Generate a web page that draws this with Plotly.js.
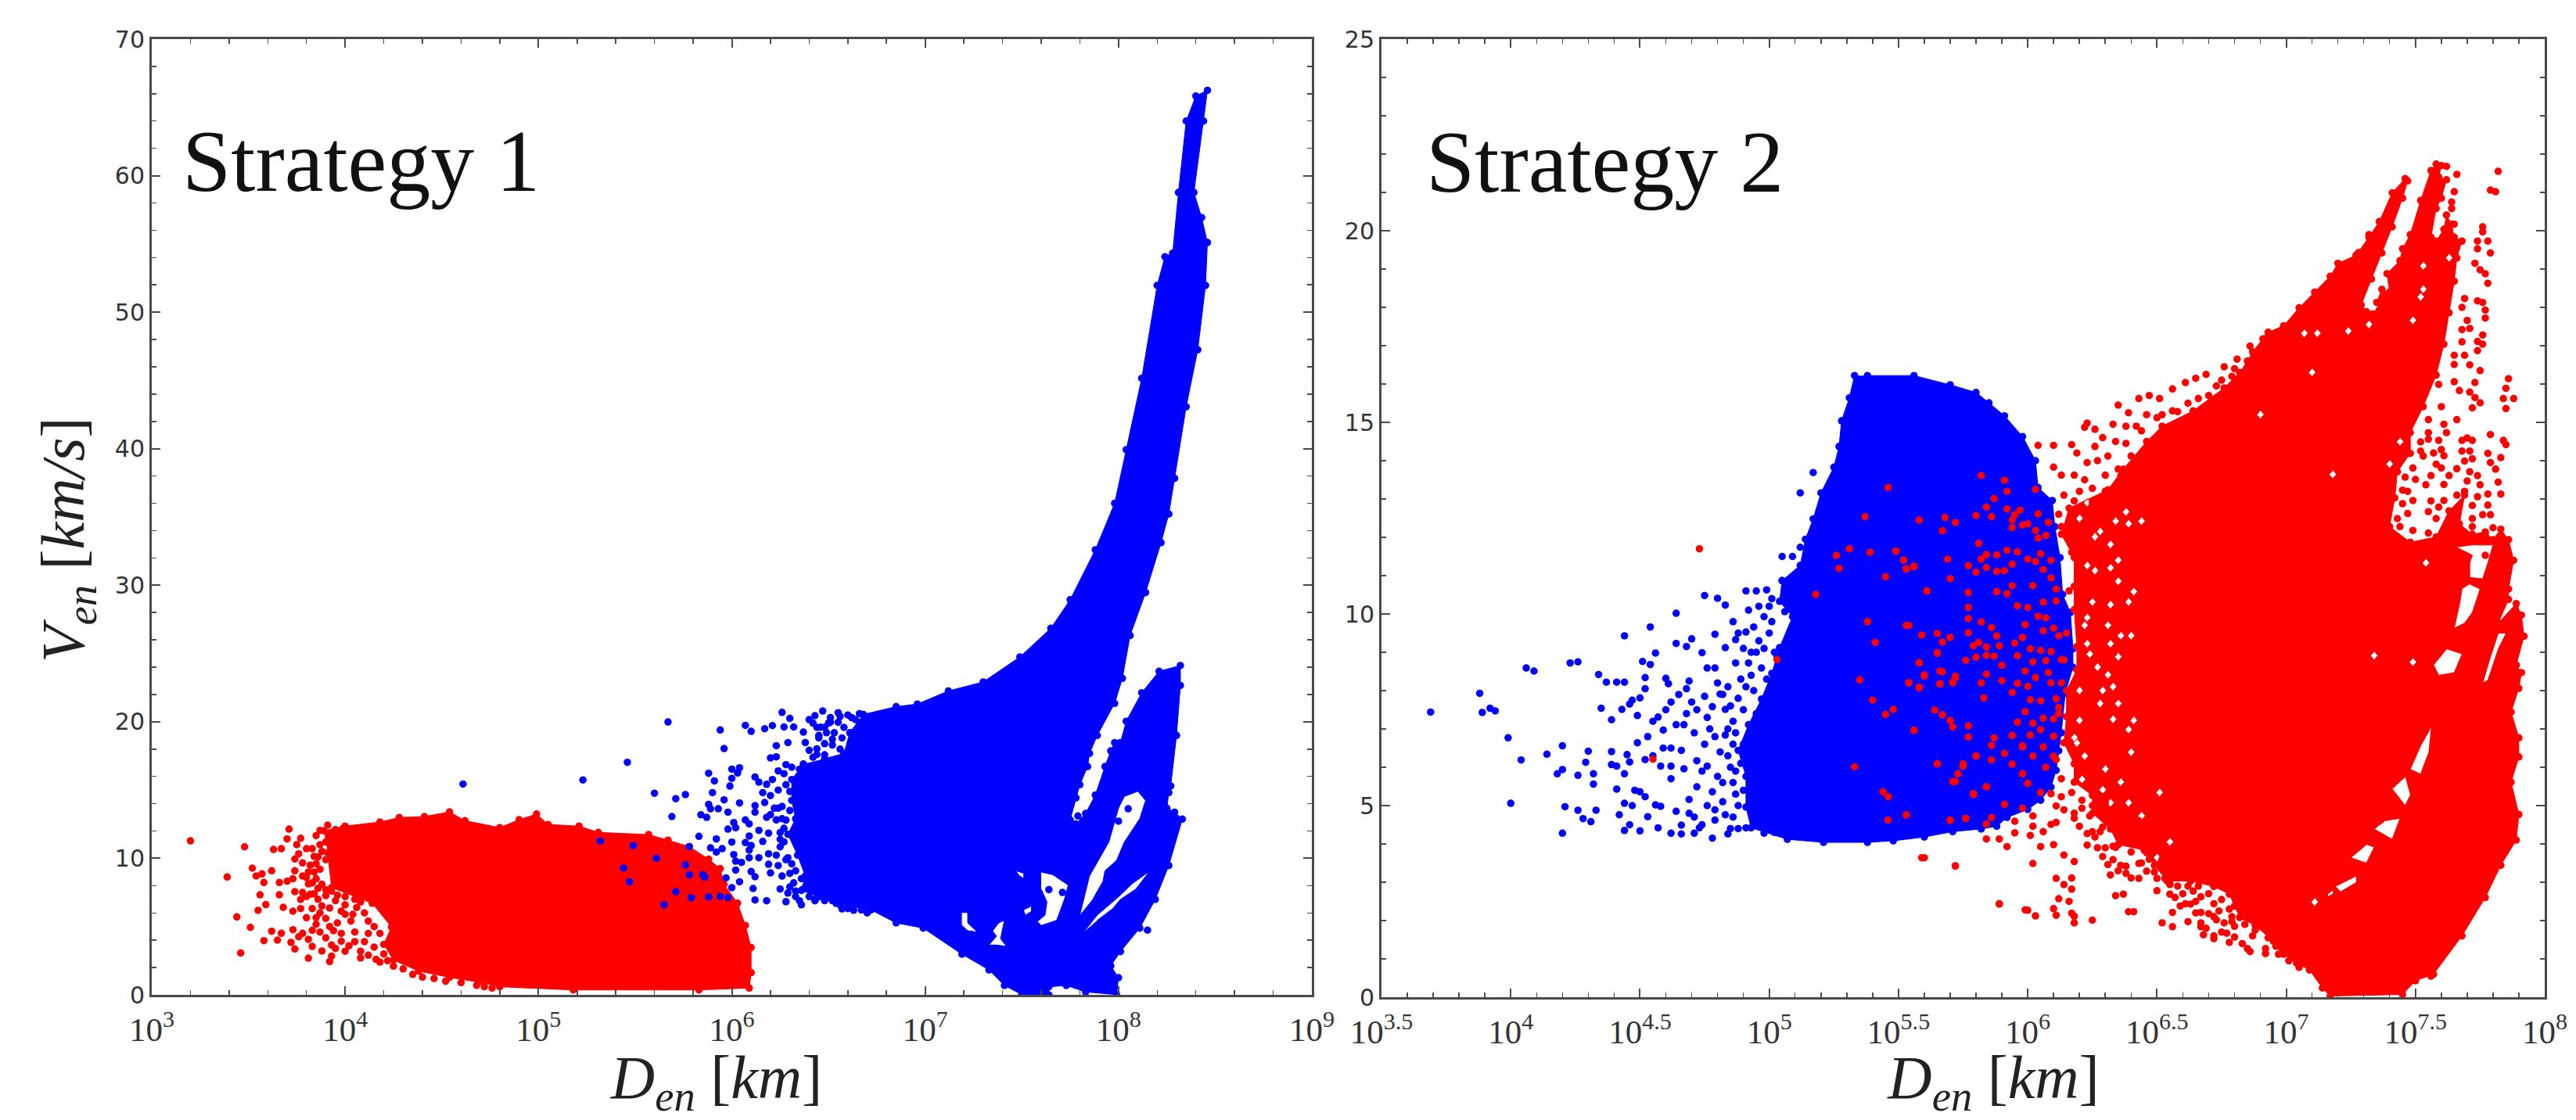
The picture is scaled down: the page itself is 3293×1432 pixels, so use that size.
<!DOCTYPE html>
<html><head><meta charset="utf-8">
<style>html,body{margin:0;padding:0;background:#fff}</style>
<script src="https://cdn.plot.ly/plotly-3.0.1.min.js"></script>
</head><body><div id="chart" style="width:3293px;height:1432px"></div>
<script>
// All points are [log10(D_en / km), V_en (km/s)].
const s1RedBody=[[3.89,12.02],[4.00,12.36],[4.18,12.66],[4.28,12.99],[4.41,13.06],[4.54,13.40],[4.62,12.76],[4.80,12.25],[4.90,12.83],[4.99,13.24],[5.05,12.48],[5.21,12.36],[5.31,11.90],[5.57,11.74],[5.67,11.33],[5.78,10.86],[5.88,9.94],[5.94,9.25],[5.96,8.09],[6.03,6.71],[6.07,5.09],[6.10,3.47],[6.10,1.62],[6.09,0.5],[5.83,0.36],[5.18,0.36],[4.80,0.59],[4.69,0.93],[4.54,1.28],[4.38,1.74],[4.25,2.55],[4.20,3.70],[4.24,4.97],[4.14,6.71],[3.93,7.86],[3.91,10.4]];
const s1RedDots=[[3.20,11.28],[3.48,10.84],[3.39,8.63],[3.44,5.71],[3.46,3.07],[3.51,4.94],[3.52,9.28],[3.54,8.71],[3.57,8.86],[3.62,9.09],[3.63,10.65],[3.67,10.71],[3.70,11.42],[3.71,12.14],[3.58,8.23],[3.56,7.33],[3.59,6.61],[3.55,6.19],[3.66,7.33],[3.66,8.23],[3.68,6.41],[3.62,4.66],[3.58,3.97],[3.65,4.01],[3.67,4.51],[3.73,4.77],[3.72,3.84],[3.74,3.36],[3.76,4.26],[3.78,4.51],[3.81,4.07],[3.83,3.55],[3.81,2.69],[3.88,3.21],[3.92,2.44],[3.93,2.84],[3.93,3.65],[3.90,4.18],[3.87,4.60],[3.83,4.73],[3.73,6.13],[3.77,6.32],[3.77,6.99],[3.74,7.56],[3.80,5.65],[3.83,6.32],[3.88,6.51],[3.92,6.36],[3.85,5.65],[3.85,5.17],[3.74,9.09],[3.76,10.33],[3.74,9.95],[3.78,9.66],[3.75,11.0],[3.77,11.47],[3.80,10.71],[3.83,10.71],[3.84,10.14],[3.85,11.66],[3.91,12.43],[3.87,12.05],[3.98,11.66],[3.99,12.2],[3.70,8.32],[3.73,8.5],[3.78,8.7],[3.81,8.13],[3.82,7.37],[3.90,7.27],[3.96,5.27],[3.94,4.7],[3.98,3.93],[3.98,6.13],[4.03,5.4],[4.05,4.6],[4.02,3.6],[4.08,3.2],[4.12,2.9],[4.18,2.4],[4.25,2.1],[4.06,6.4],
[3.95,12.1],[3.98,11.2],[3.95,11.3],[3.92,11.8],[3.90,11.2],[3.87,11.0],[3.88,10.5],[3.86,10.1],[3.85,9.6],[3.90,9.9],[3.82,9.5],[3.84,9.0],[3.87,9.2],[3.81,9.0],[3.80,8.6],[3.85,8.5],[3.83,8.2],[3.88,8.1],[3.86,7.8],[3.84,7.4],[3.90,7.7],[3.93,7.6],[3.96,7.3],[4.0,7.2],[4.05,7.0],[4.08,6.8],[4.0,6.6],[3.95,6.9],[3.86,7.0],[3.78,7.5],[3.80,7.2],[4.0,5.9],[4.04,5.9],[4.1,6.0],[4.12,5.4],[4.15,5.0],[4.18,4.5],[4.12,4.5],[4.10,3.9],[4.15,3.5],[4.05,3.9],[4.0,3.2],[3.95,3.4],[3.98,4.5],[3.92,5.0],[3.90,5.6],[3.87,6.0],[4.2,3.0],[4.16,2.6],[4.22,2.5],[4.08,2.7],[4.3,1.9],[4.35,1.5],[4.4,1.3],[4.46,1.2],[4.52,1.0],[4.6,0.9],[4.68,0.7],[4.72,0.6],[4.76,0.5]];
const s1BlueBody=[[6.37,16.91],[6.31,15.77],[6.31,14.24],[6.33,12.90],[6.29,11.76],[6.34,10.23],[6.38,8.70],[6.36,7.65],[6.45,7.18],[6.56,6.60],[6.72,6.22],[6.85,5.27],[6.99,4.89],[7.19,2.98],[7.33,1.83],[7.41,0.69],[7.50,0.02],[7.64,0],[7.64,0.59],[7.73,0.69],[7.83,0.21],[7.99,0.02],[8.00,1.26],[7.96,2.12],[8.01,3.17],[8.11,4.89],[8.19,6.99],[8.26,9.47],[8.33,12.87],[8.29,13.38],[8.25,13.67],[8.26,14.82],[8.27,15.3],[8.30,19.0],[8.32,22.66],[8.32,24.12],[8.21,23.70],[8.12,22.13],[8.04,20.04],[8.01,18.47],[7.98,18.47],[7.96,17.87],[7.93,16.72],[7.88,14.63],[7.83,13.29],[7.78,12.52],[7.75,12.81],[7.78,14.43],[7.80,15.39],[7.84,16.72],[7.85,17.68],[7.89,19.0],[7.98,21.35],[8.02,23.18],[8.06,26.32],[8.14,29.46],[8.22,33.12],[8.26,35.22],[8.29,37.83],[8.35,43.07],[8.41,47.25],[8.45,51.96],[8.46,55.10],[8.43,56.93],[8.39,58.77],[8.44,64.0],[8.46,66.25],[8.40,65.83],[8.35,64.0],[8.31,58.77],[8.28,54.32],[8.24,54.06],[8.20,51.96],[8.12,45.16],[8.04,39.93],[7.98,36.0],[7.88,32.6],[7.75,28.94],[7.65,26.85],[7.49,24.75],[7.30,22.92],[7.12,22.26],[6.96,21.30],[6.85,21.11],[6.68,20.54],[6.61,19.2],[6.58,17.68],[6.48,17.30]];
const s1BlueGaps=[
[[7.80,5.84],[7.85,8.71],[7.95,11.19],[8.00,13.67],[8.03,14.53],[8.10,14.91],[8.14,14.24],[8.11,12.91],[8.03,11.19],[7.99,9.85],[7.93,9.09],[7.92,8.32],[7.87,7.08]],
[[7.82,4.60],[7.89,5.84],[8.00,7.18],[8.07,8.13],[8.16,9.05],[8.09,7.75],[8.01,6.99],[7.97,6.32],[7.89,5.46]],
[[7.60,9.0],[7.66,8.8],[7.74,8.04],[7.72,6.99],[7.70,6.22],[7.68,5.46],[7.60,5.08],[7.58,5.37],[7.62,5.84],[7.63,6.8],[7.60,7.75]],
[[7.19,6.03],[7.22,6.03],[7.22,5.27],[7.27,4.60],[7.22,4.70],[7.19,5.08]],
[[7.35,4.70],[7.38,5.27],[7.41,5.46],[7.39,4.12],[7.42,3.55],[7.37,3.65],[7.33,3.65],[7.37,4.31]],
[[7.47,9.09],[7.51,8.90],[7.51,8.52],[7.49,8.71]],
[[7.51,6.23],[7.55,6.51],[7.55,6.13],[7.52,5.84]]
];
const s1BlueDots=[[4.61,15.44],[5.23,15.74],[5.46,17.03],[5.67,19.99],[5.60,14.77],[5.71,14.37],[5.76,14.67],[5.69,13.06],[5.32,11.26],[5.49,10.93],[5.61,10.01],[5.44,9.29],[5.47,8.28],[5.76,9.52],[5.78,8.79],[5.85,8.79],[5.86,8.62],[5.71,7.56],[5.79,7.12],[5.88,7.17],[5.94,7.21],[5.98,7.12],[5.78,10.86],[5.65,6.59],
[5.94,19.40],[5.96,18.04],[6.07,19.74],[6.10,19.30],[6.17,19.49],[6.21,19.72],[6.26,20.69],[6.30,20.25],[6.27,19.62],[6.32,19.62],[6.37,19.24],[6.29,18.48],[6.23,18.25],[6.38,18.48],[6.40,17.91],[6.44,18.02],[6.20,17.35],[6.23,17.43],[6.40,20.16],[6.43,20.45],[6.47,20.79],[6.55,20.67],[6.51,20.31],[6.44,19.59],[6.45,18.82],[6.52,18.73],[6.28,16.86],[6.31,16.67],[6.35,16.53],[5.88,16.23],[5.91,15.67],[5.99,15.29],[6.00,16.53],[6.04,16.63],[6.00,15.86],[6.03,16.25],[6.12,15.96],[6.14,15.58],[6.21,15.77],[6.18,15.42],[6.24,15.00],[6.28,15.39],[6.16,14.81],[5.90,14.81],[5.96,14.28],[6.04,14.05],[5.88,13.95],[5.89,13.63],[5.93,13.63],[5.98,13.38],[5.84,13.19],[5.87,13.00],[6.17,14.09],[6.12,13.86],[6.12,13.38],[6.24,13.67],[6.22,13.67],[6.18,13.00],[6.07,12.81],[6.09,12.52],[6.01,12.62],[6.02,12.24],[5.98,12.14],[6.23,12.81],[6.26,12.90],[6.19,11.85],[6.14,12.05],[6.25,11.89],[5.83,11.61],[5.92,11.42],[6.00,11.19],[6.09,11.63],[6.07,11.15],[6.16,11.24],[5.89,10.77],[5.92,10.46],[5.95,10.71],[6.10,10.94],[6.09,10.61],[6.25,10.84],[6.01,10.27],[6.02,9.79],[6.05,9.70],[6.09,10.04],[6.14,10.04],[6.19,10.33],[6.23,10.23],[6.19,9.56],[6.24,9.47],[6.02,9.14],[6.10,9.03],[6.12,8.65],[6.20,8.93],[6.26,8.70],[5.97,8.57],[6.04,8.28],[6.00,7.85],[6.11,7.79],[6.12,6.95],[6.18,6.89],[6.25,7.75],[6.29,7.46],[6.28,6.83],[6.35,6.89],[6.36,6.60],[6.43,6.89],[6.54,6.70],[6.60,6.32],[6.67,6.22],[6.37,7.75],[6.33,9.09],[6.36,8.51],[6.29,10.04],
[6.51,19.97],[6.55,19.97],[6.58,19.59],[6.64,20.16],[6.48,19.59],[6.53,19.2],[6.48,17.58],[6.57,18.82],[6.62,19.2],
[8.05,13.63],[8.00,12.72],[7.79,13.1],[8.15,4.74],[7.64,7.71],[7.71,7.50],
[6.56,20.4],[6.60,20.5],[6.62,20.3],[6.66,20.6],[6.50,19.9],[6.46,19.6],[6.42,19.9],[6.49,19.2],[6.45,19.0],[6.52,18.3],[6.56,18.0],[6.48,18.4],[6.44,17.6],[6.42,17.4],[6.30,14.9],[6.30,13.5],[6.28,12.8],[6.27,12.2],[6.25,11.4],[6.27,11.2],[6.28,9.9],[6.31,9.6],[6.30,8.9],[6.32,8.2],[6.30,7.9],[6.33,7.6],[6.33,7.2],[6.40,7.2],[6.43,7.0],[6.48,6.9],[6.52,6.9],[6.57,6.3],[6.63,6.2],[6.70,6.0],[6.26,13.8],[6.20,14.6],[6.20,13.2],[6.27,16.2],[6.24,16.4]];

const s2BlueBody=[[5.33,16.22],[5.31,15.64],[5.28,15.04],[5.27,14.37],[5.25,13.83],[5.20,13.16],[5.17,12.48],[5.14,11.95],[5.12,11.27],[5.05,10.87],[5.04,10.33],[5.09,9.93],[5.04,9.12],[5.01,8.45],[4.97,7.78],[4.92,7.11],[4.88,6.44],[4.91,5.76],[4.91,4.96],[4.93,4.42],[5.07,4.12],[5.21,4.04],[5.38,4.04],[5.48,4.08],[5.60,4.18],[5.71,4.32],[5.82,4.39],[5.88,4.46],[5.92,4.69],[6.00,4.90],[6.05,5.14],[6.09,5.48],[6.11,5.92],[6.12,6.43],[6.13,6.9],[6.145,7.93],[6.175,8.61],[6.175,9.09],[6.165,10.04],[6.135,10.51],[6.125,11.47],[6.105,12.28],[6.095,12.96],[6.04,13.30],[6.03,14.0],[5.98,14.63],[5.91,15.17],[5.85,15.51],[5.80,15.78],[5.70,15.98],[5.56,16.22],[5.38,16.22]];
const s2BlueDots=[[3.69,7.44],[3.88,7.93],[3.89,7.43],[3.92,7.54],[3.94,7.47],[3.99,6.77],[4.00,5.06],[4.04,6.19],[4.06,8.59],[4.09,8.51],[4.14,6.34],[4.20,6.56],[4.18,5.83],[4.20,5.94],[4.21,4.97],[4.20,4.28],[4.23,8.72],[4.26,8.75],[4.26,5.79],[4.26,4.88],[4.28,4.66],[4.31,4.58],[4.33,4.88],[4.29,6.13],[4.30,6.42],[4.32,5.83],[4.32,5.56],[4.34,8.42],[4.35,7.54],[4.39,7.24],[4.37,8.22],[4.41,8.22],[4.44,8.22],[4.44,9.43],[4.39,6.41],[4.39,6.07],[4.41,6.03],[4.44,5.83],[4.41,5.43],[4.45,6.33],[4.46,6.14],[4.44,5.06],[4.42,4.76],[4.44,4.35],[4.50,4.34],[4.49,6.64],[4.49,7.35],[4.43,7.51],[4.46,7.65],[4.47,7.75],[4.50,7.81],[4.52,8.05],[4.52,8.34],[4.51,8.76],[4.54,8.68],[4.56,8.98],[4.54,9.66],[4.64,10.02],[4.64,9.23],[4.68,9.15],[4.70,9.35],[4.75,10.48],[4.80,10.41],[4.83,10.23],[4.79,9.47],[4.74,8.99],[4.76,8.59],[4.57,4.42],[4.62,4.28],[4.66,4.26],[4.71,4.28],[4.78,4.15],[4.84,4.26],[4.53,4.71],[4.52,5.23],[4.50,5.36],[4.56,5.02],[4.58,4.98],[4.64,4.85],[4.69,4.80],[4.66,4.49],[4.73,4.42],[4.79,4.89],[4.83,4.76],[4.57,7.31],[4.59,6.97],[4.64,7.11],[4.67,7.11],[4.68,8.05],[4.69,8.25],[4.60,8.32],[4.61,8.18],[4.59,6.50],[4.62,6.50],[4.66,6.44],[4.62,6.03],[4.55,6.30],[4.58,6.03],[4.62,5.70],[4.67,5.96],[4.72,6.17],[4.72,5.49],[4.69,5.16],[4.75,7.85],[4.78,7.58],[4.81,7.91],[4.83,7.51],[4.79,8.59],[4.83,9.12],[4.87,9.33],[4.91,9.53],[4.94,9.66],[4.86,9.80],[4.91,10.60],[4.95,10.60],[4.99,10.63],[4.98,9.93],[5.01,10.40],[5.05,10.87],[5.06,10.06],[4.87,8.72],[4.92,8.72],[4.97,8.59],[4.83,6.84],[4.84,6.30],[4.80,5.76],[4.76,6.03],[4.78,5.36],[4.87,5.90],[4.79,4.62],[4.91,4.42],[4.98,4.28],[5.12,13.16],[5.17,13.69],[5.05,11.50],[5.09,11.50],[5.12,11.74],[5.14,11.41],
[4.80,8.2],[4.82,7.9],[4.84,8.1],[4.85,7.6],[4.86,7.2],[4.84,7.0],[4.87,6.9],[4.86,6.6],[4.88,7.8],[4.90,7.5],[4.89,8.3],[4.91,8.1],[4.93,8.4],[4.94,8.0],[4.95,9.0],[4.96,9.3],[4.98,9.1],[5.0,9.5],[5.01,9.8],[4.93,9.0],[4.90,9.1],[4.88,9.5],[4.92,10.1],[4.96,10.2],[5.0,10.2],[5.02,9.0],[4.99,8.3],[4.85,6.0],[4.86,5.6],[4.87,5.3],[4.88,5.0],[4.86,4.7],[4.88,4.4],[4.85,4.4],[4.82,5.1],[4.82,5.6],[4.81,6.4],[4.79,6.8],[4.77,7.0],[4.76,7.3],[4.75,6.6],[4.74,5.9],[4.76,5.0],[4.74,4.5],[4.71,4.7],[4.71,6.9],[4.72,7.5],[4.70,7.7],[4.68,7.4],[4.65,7.9],[4.62,7.7],[4.60,7.5],[4.55,7.2],[4.53,6.8],[4.52,6.2],[4.48,5.4],[4.47,5.0],[4.46,4.5],[4.95,7.4],[4.93,6.8],[4.90,6.6],[4.89,6.1],[4.90,5.4],[4.95,4.7],[5.0,4.4],[5.02,4.3],[5.03,8.9],[5.10,10.9],[5.13,10.7]];

const s2RedBody=[[6.87,16.84],[6.91,17.18],[6.93,17.35],[6.99,17.52],[7.05,17.99],[7.11,18.40],[7.17,18.81],[7.20,19.15],[7.27,19.36],[7.32,19.83],[7.36,20.24],[7.41,20.99],[7.46,21.36],[7.47,21.30],[7.45,20.85],[7.41,20.1],[7.37,19.42],[7.33,18.74],[7.29,18.06],[7.31,17.89],[7.36,17.93],[7.35,18.13],[7.37,18.47],[7.40,18.40],[7.39,18.88],[7.44,19.22],[7.45,19.53],[7.48,19.90],[7.52,20.79],[7.56,21.57],[7.58,21.74],[7.60,21.70],[7.59,21.40],[7.62,21.33],[7.60,20.85],[7.58,20.58],[7.56,19.83],[7.58,19.73],[7.61,20.04],[7.62,20.41],[7.64,20.17],[7.65,19.83],[7.68,19.73],[7.66,19.29],[7.65,18.68],[7.63,17.86],[7.61,17.04],[7.58,16.23],[7.53,15.41],[7.48,14.73],[7.48,14.19],[7.43,13.71],[7.42,13.03],[7.40,12.28],[7.48,11.87],[7.58,12.01],[7.63,12.69],[7.69,13.1],[7.67,12.35],[7.72,12.08],[7.77,12.14],[7.80,11.94],[7.83,12.21],[7.86,11.94],[7.88,11.40],[7.86,10.65],[7.86,10.38],[7.82,9.76],[7.89,10.27],[7.91,9.97],[7.92,9.42],[7.89,8.67],[7.91,8.47],[7.90,8.06],[7.87,7.44],[7.90,6.77],[7.90,6.27],[7.87,5.61],[7.90,4.77],[7.89,4.10],[7.83,3.44],[7.77,2.60],[7.68,1.60],[7.57,0.60],[7.50,0.43],[7.45,0.07],[7.17,0.03],[7.14,0.24],[7.09,0.71],[7.04,0.89],[6.99,1.12],[6.95,1.46],[6.88,1.87],[6.82,2.08],[6.78,2.69],[6.72,2.89],[6.63,3.03],[6.54,3.03],[6.49,3.44],[6.45,3.84],[6.35,3.98],[6.32,4.39],[6.25,4.8],[6.25,5.27],[6.18,5.61],[6.18,6.09],[6.14,6.64],[6.15,7.32],[6.15,8.0],[6.19,8.54],[6.19,9.15],[6.18,10.11],[6.18,10.72],[6.18,11.47],[6.13,12.08],[6.16,12.76],[6.31,13.24],[6.37,13.78],[6.46,14.5],[6.52,14.9],[6.64,15.3],[6.76,15.9],[6.82,16.3]];
const s2RedGaps=[
[[7.66,11.74],[7.72,11.53],[7.71,11.33],[7.71,10.95],[7.76,10.92],[7.78,11.33],[7.80,11.80],[7.73,11.80]],
[[7.68,10.65],[7.67,10.24],[7.65,9.63],[7.69,9.76],[7.72,10.04],[7.75,10.65],[7.71,10.78]],
[[7.82,9.49],[7.79,8.88],[7.76,8.20],[7.78,8.27],[7.82,9.08],[7.85,9.49]],
[[7.62,9.08],[7.57,8.67],[7.59,8.40],[7.65,8.47],[7.68,8.95]],
[[7.56,7.04],[7.52,6.56],[7.48,5.95],[7.52,5.82],[7.55,6.36]],
[[7.46,5.75],[7.41,5.44],[7.46,5.0],[7.48,5.27]],
[[7.38,4.59],[7.34,4.39],[7.41,4.12],[7.44,4.66]],
[[7.31,3.98],[7.25,3.64],[7.31,3.5],[7.34,3.91]],
[[7.27,3.16],[7.19,2.89],[7.21,2.75],[7.27,2.99]],
[[7.18,2.79],[7.16,2.69],[7.16,2.62],[7.18,2.69]]
];
const s2RedSpecks=[[6.20,12.49],[6.26,12.01],[6.28,12.15],[6.23,12.9],[6.38,12.66],[6.44,12.42],[6.34,12.42],[6.39,12.35],[6.32,11.81],[6.35,11.40],[6.32,11.2],[6.23,11.26],[6.26,11.13],[6.35,10.85],[6.41,10.58],[6.39,10.31],[6.32,10.24],[6.25,10.31],[6.23,9.90],[6.22,9.70],[6.31,9.70],[6.36,9.43],[6.40,9.43],[6.23,9.22],[6.24,8.95],[6.32,9.22],[6.35,8.88],[6.27,8.61],[6.31,8.41],[6.20,8.0],[6.29,8.0],[6.33,8.1],[6.35,7.66],[6.28,7.66],[6.41,7.22],[6.20,7.22],[6.18,6.77],[6.39,6.98],[6.33,7.25],[6.22,6.29],[6.19,6.63],[6.30,5.95],[6.36,5.61],[6.29,5.41],[6.39,5.07],[6.21,5.68],[6.32,5.07],[6.44,4.73],[6.40,6.39],[6.55,4.05],[6.50,3.64],[6.51,5.34],[7.53,19.08],[7.63,19.29],[7.53,18.47],[7.52,18.27],[7.24,17.38],[7.32,17.55],[7.49,17.66],[7.12,17.32],[7.07,17.32],[7.10,16.3],[6.90,15.2],[7.44,14.49],[7.18,13.64],[7.40,13.91],[7.54,11.33],[7.34,8.91],[7.49,8.74],[7.11,2.48]];
const s2RedDots=[[4.73,11.70],[4.55,6.21],[5.03,8.81],[5.18,10.51],[5.26,11.53],[5.31,11.70],[5.27,11.19],[5.37,12.54],[5.46,13.30],[5.39,11.61],[5.49,11.64],[5.45,10.97],[5.52,11.41],[5.53,11.18],[5.56,11.25],[5.61,10.60],[5.38,9.80],[5.41,9.26],[5.54,9.70],[5.35,8.28],[5.40,7.75],[5.45,7.38],[5.48,7.51],[5.56,6.97],[5.33,6.01],[5.44,5.36],[5.46,5.23],[5.46,4.62],[5.53,4.76],[5.59,3.64],[5.72,3.43],[5.89,2.43],[6.00,2.27],[5.70,4.62],[5.76,4.66],[5.65,6.09],[5.72,5.63],[5.75,6.03],[5.80,6.30],[5.79,5.29],[5.84,5.49],[5.65,8.99],[5.58,8.72],[5.60,8.38],[5.54,8.21],[5.58,8.07],[5.66,8.18],[5.67,8.49],[5.72,8.38],[5.71,8.22],
[5.82,13.61],[5.91,13.49],[5.92,13.20],[5.87,13.01],[5.84,12.79],[5.80,12.57],[5.86,12.54],[5.58,12.45],[5.68,12.52],[5.72,12.39],[5.67,12.17],[5.92,12.74],[6.03,13.25],[5.97,12.71],[5.95,12.59],[5.94,12.45],[5.94,12.25],[5.98,12.32],[6.00,12.35],[6.03,12.18],[6.04,11.98],[6.07,12.05],[6.04,12.61],[6.08,12.39],[5.81,11.84],[5.49,11.64],[5.52,11.40],[5.53,11.17],[5.56,11.23],[5.69,11.43],[5.77,11.26],[5.80,11.09],[5.82,11.43],[5.84,11.55],[5.84,11.21],[5.88,11.11],[5.91,11.13],[5.94,11.30],[5.88,11.54],[5.92,11.66],[5.96,11.62],[6.00,11.43],[6.03,11.37],[6.05,11.57],[6.06,11.16],[6.09,11.40],[6.09,10.94],[5.70,10.92],[5.61,10.60],[5.77,10.56],[5.88,10.58],[5.92,10.53],[5.94,10.74],[6.02,10.74],[6.11,10.65],[6.11,10.34],[6.06,10.31],[5.96,10.21],[6.00,10.17],[5.77,10.17],[5.77,9.88],[5.82,9.79],[5.86,9.65],[5.53,9.70],[5.59,9.45],[5.65,9.49],[5.70,9.39],[5.67,9.27],[5.77,9.51],[5.88,9.43],[5.89,9.17],[5.79,9.17],[5.81,9.26],[5.84,9.14],[5.95,9.24],[5.98,9.39],[5.99,9.72],[6.04,9.94],[6.07,9.90],[6.06,9.56],[6.10,9.63],[6.12,9.43],[5.65,8.97],[5.76,8.79],[5.80,8.87],[5.84,8.92],[5.87,8.90],[5.96,8.91],[6.01,9.09],[6.05,9.05],[6.09,9.02],[6.02,8.75],[6.07,8.78],[6.13,8.81],[5.58,8.73],[5.66,8.51],[5.60,8.41],[5.90,8.66],[5.99,8.51],[5.84,8.43],[5.72,8.34],[5.54,8.20],[5.58,8.09],[5.66,8.17],[5.71,8.20],[5.82,8.20],[5.90,8.26],[5.96,8.19],[6.00,8.11],[6.03,8.34],[6.08,8.47],[6.09,8.20],[5.94,7.95],[5.83,7.81],[6.01,7.76],[6.05,7.73],[6.11,7.79],[6.12,7.56],[5.64,7.49],[5.67,7.37],[5.70,7.22],[5.71,7.05],[5.77,7.08],[5.56,6.96],[5.77,6.79],[5.87,6.77],[5.86,6.57],[5.94,6.83],[5.98,6.56],[5.99,7.45],[5.96,7.18],[6.02,7.15],[6.01,6.84],[6.06,7.28],[6.10,7.26],[6.05,6.98],[6.10,6.81],
[5.65,6.09],[5.75,6.09],[5.73,5.83],[5.71,5.63],[5.84,5.49],[5.79,5.31],[5.80,6.29],[5.86,6.19],[5.91,6.36],[5.98,6.53],[6.02,6.29],[6.06,6.53],[5.94,6.08],[5.98,5.83],[6.00,5.58],[6.07,6.0],[6.10,6.29],[5.91,5.03],[5.98,4.93],[5.86,4.69],[5.84,4.52],[5.76,4.67],[5.70,4.61],[5.53,4.75],[5.95,4.59],[5.95,4.29],[5.84,4.13],[5.89,4.13],[5.92,3.93],[5.60,3.64],[5.72,3.42],[6.02,3.49],[6.02,4.73],[6.02,4.46],[6.01,4.22],[6.06,4.32],[6.05,3.93],[6.10,3.98],[6.09,4.51],[6.11,4.56],[6.11,4.99],[6.14,4.89],[6.05,5.34],[6.09,5.31],[6.13,5.23],[6.17,5.34],[6.18,4.67],[6.20,4.46],[6.14,3.71],[6.18,3.54],[6.11,3.10],[6.17,3.11],[6.14,2.94],[6.17,2.82],[6.12,2.57],[6.16,2.50],[5.89,2.44],[5.99,2.28],[6.03,2.12],[6.10,2.31],[6.11,2.14],[6.17,2.19],[6.18,2.11],[6.18,1.94],[6.25,2.01],[6.23,3.97],[6.27,3.90],[6.30,3.90],[6.25,4.32],[6.28,4.32],[6.26,4.18],[6.29,3.67],[6.33,3.59],[6.31,3.46],[6.32,3.19],[6.38,3.42],[6.38,3.23],[6.40,3.11],[6.43,3.49],[6.46,3.29],[6.40,3.79],[6.34,2.65],[6.37,2.69],[6.39,2.23],[6.41,2.23],[6.50,2.78],[6.52,1.94],[6.56,1.84],[6.56,2.21],[6.55,2.69],[6.55,2.96],[6.34,3.91],[6.18,4.8],[6.21,4.93],[6.24,4.73],[6.21,5.14],[6.30,5.07],[6.31,4.86],
[6.72,1.53],[6.77,1.67],[6.80,1.57],[6.68,1.63],[6.67,1.84],[6.62,1.97],[6.73,2.02],[6.79,1.97],[6.59,2.38],[6.63,2.43],[6.67,2.21],[6.74,2.25],[6.70,2.18],[6.80,2.38],[6.82,2.62],[6.86,1.19],[6.92,1.14],[6.83,1.40],[6.97,1.12],[7.01,0.95],[7.05,0.78],[7.56,0.55],[6.67,2.62],[6.87,1.6],[6.91,2.0],[6.96,1.33],
[6.04,14.40],[6.10,14.40],[6.17,14.42],[6.19,14.20],[6.10,13.83],[6.13,13.62],[6.18,13.62],[6.23,14.98],[6.22,14.87],[6.26,14.82],[6.33,14.95],[6.35,15.45],[6.39,15.25],[6.43,15.62],[6.47,15.70],[6.51,15.62],[6.56,15.87],[6.61,16.04],[6.65,16.15],[6.69,16.25],[6.76,16.45],[6.81,16.65],[6.86,16.99],[6.93,17.25],[6.99,17.49],[7.07,17.87],[6.26,14.37],[6.31,14.12],[6.38,14.45],[6.44,14.78],[6.50,15.12],[6.58,15.28],[6.66,15.62],[6.73,15.95],[6.79,16.20],[6.23,13.95],[6.25,13.28],[6.30,13.62],[6.35,13.78],[6.40,14.12],[6.46,13.87],[6.52,14.45],[6.18,12.95],[6.21,12.78],[6.27,12.61],[6.33,13.12],[6.40,13.12],[6.13,12.28],[6.12,12.6],[6.14,13.1],[6.17,11.61],[6.16,10.6],[6.15,9.5],[6.14,8.8],[6.13,8.2],[6.12,7.4],[6.11,6.2],[6.13,5.7],[6.23,4.27],[6.29,4.44],[6.33,3.94],[6.40,4.27],[6.46,3.77],[6.36,3.44],[6.43,3.10],[6.49,3.27],[6.55,2.94],[6.61,2.44],[6.67,1.94],[6.72,1.60],[6.76,1.94],[6.58,3.27],[6.64,2.77],[6.72,2.44],[6.79,2.10],[6.85,1.27],[6.78,1.43],[6.92,1.27],[6.67,3.27],[6.92,2.02],[6.84,2.10],
[6.50,4.6],[6.47,4.2],[6.43,4.6],[6.37,4.9],[6.42,4.1],[6.36,4.3],[6.45,3.95],[6.52,3.6],[6.56,3.5],[6.60,3.4],[6.58,2.9],[6.62,2.9],[6.66,2.9],[6.70,2.7],[6.65,2.5],[6.60,2.7],[6.75,2.55],[6.78,2.3],[6.82,2.3],[6.84,1.9],[6.88,1.75],[6.93,1.55],[6.98,1.3],[6.72,2.1],[6.69,1.8],[6.75,1.7],[6.80,1.85],[6.65,2.2],[6.57,2.6],[6.53,3.1],[6.50,3.1],[6.47,3.6],[6.44,3.5],[6.35,3.3],[6.33,4.4],[6.28,4.9],[6.25,5.0],
[6.36,13.6],[6.42,13.6],[6.44,13.3],[6.48,14.2],[6.50,14.6],[6.55,14.9],[6.60,15.0],[6.62,15.5],[6.56,15.3],[6.52,15.2],[6.46,15.2],[6.42,14.9],[6.38,14.9],[6.34,14.5],[6.29,14.6],[6.27,14.0],[6.22,13.5],[6.25,12.9],[6.20,13.2],[6.30,13.2],[6.70,15.7],[6.75,16.1],[6.80,16.4],[6.85,16.6],[6.90,16.9],[6.68,15.3],
[7.55,15.07],[7.55,14.73],[7.55,14.56],[7.61,14.95],[7.66,15.07],[7.62,14.73],[7.52,14.49],[7.52,14.25],[7.53,14.12],[7.59,14.53],[7.60,14.29],[7.57,14.20],[7.61,14.13],[7.70,14.59],[7.68,14.53],[7.72,14.53],[7.79,14.68],[7.84,14.53],[7.85,14.42],[7.68,14.25],[7.71,14.25],[7.78,14.19],[7.83,14.08],[7.72,14.05],[7.69,13.99],[7.79,13.95],[7.81,13.78],[7.58,13.91],[7.60,13.81],[7.49,13.81],[7.46,13.57],[7.50,13.51],[7.56,13.61],[7.54,13.37],[7.61,13.38],[7.63,13.61],[7.66,13.79],[7.71,13.71],[7.74,13.61],[7.70,13.47],[7.75,13.37],[7.82,13.44],[7.78,13.13],[7.83,13.13],[7.74,13.06],[7.47,13.20],[7.45,13.23],[7.49,12.96],[7.56,12.95],[7.61,12.96],[7.59,12.79],[7.45,12.88],[7.55,12.67],[7.47,12.62],[7.43,12.49],[7.44,12.28],[7.49,12.18],[7.55,12.11],[7.58,12.49],[7.72,12.83],[7.78,12.84],[7.76,12.59],[7.79,12.59],[7.72,12.49],[7.72,12.28],[7.80,12.25],[7.77,12.08],[7.66,13.10],[7.69,13.20],[7.77,11.53],
[7.62,21.68],[7.66,21.47],[7.65,21.02],[7.82,21.55],[7.79,21.06],[7.81,21.02],[7.64,20.75],[7.64,20.58],[7.65,20.17],[7.76,20.10],[7.76,19.97],[7.74,19.73],[7.78,19.73],[7.74,19.53],[7.79,19.42],[7.73,19.15],[7.75,18.98],[7.77,18.88],[7.78,18.63],[7.69,18.23],[7.68,18.00],[7.74,18.17],[7.76,18.13],[7.77,17.93],[7.77,17.72],[7.70,17.66],[7.71,17.45],[7.68,17.42],[7.76,17.28],[7.68,17.10],[7.74,17.11],[7.76,17.04],[7.74,16.87],[7.65,16.75],[7.69,16.75],[7.65,16.51],[7.71,16.50],[7.75,16.35],[7.65,16.06],[7.73,16.04],[7.67,15.83],[7.71,15.79],[7.73,15.65],[7.75,15.51],[7.72,15.38],[7.60,15.41],[7.86,16.14],[7.85,15.89],[7.84,15.62],[7.88,15.62],[7.85,15.36],[7.59,15.99],[7.32,19.9],[7.28,19.43]];

const s1MajorExp=[3,4,5,6,7,8,9];
const s1TickText=['10<sup>3</sup>','10<sup>4</sup>','10<sup>5</sup>','10<sup>6</sup>','10<sup>7</sup>','10<sup>8</sup>','10<sup>9</sup>'];
const s1MinorExp=[3.2,3.4,3.6,3.8,4.2,4.4,4.6,4.8,5.2,5.4,5.6,5.8,6.2,6.4,6.6,6.8,7.2,7.4,7.6,7.8,8.2,8.4,8.6,8.8];
const s2MajorExp=[3.5,4,4.5,5,5.5,6,6.5,7,7.5,8];
const s2TickText=['10<sup>3.5</sup>','10<sup>4</sup>','10<sup>4.5</sup>','10<sup>5</sup>','10<sup>5.5</sup>','10<sup>6</sup>','10<sup>6.5</sup>','10<sup>7</sup>','10<sup>7.5</sup>','10<sup>8</sup>'];
const s2MinorExp=[3.6,3.7,3.8,3.9,4.1,4.2,4.3,4.4,4.6,4.7,4.8,4.9,5.1,5.2,5.3,5.4,5.6,5.7,5.8,5.9,6.1,6.2,6.3,6.4,6.6,6.7,6.8,6.9,7.1,7.2,7.3,7.4,7.6,7.7,7.8,7.9];

const BLUE='#0000ff', RED='#ff0000';
const pw=10;
function rings(list){const x=[],y=[];list.forEach((r,i)=>{if(i){x.push(null);y.push(null);}r.forEach(p=>{x.push(Math.pow(pw,p[0]));y.push(p[1]);});});return{x,y};}
function speck(c){return [[c[0],c[1]+0.11],[c[0]-0.014,c[1]],[c[0],c[1]-0.11],[c[0]+0.014,c[1]]];}
function body(list,color,xa,ya){const r=rings(list);return{type:'scatter',mode:'lines',x:r.x,y:r.y,xaxis:xa,yaxis:ya,fill:'toself',fillcolor:color,line:{color:color,width:1},hoverinfo:'skip',showlegend:false};}
function dots(list,color,xa,ya){return{type:'scatter',mode:'markers',x:list.map(p=>Math.pow(pw,p[0])),y:list.map(p=>p[1]),xaxis:xa,yaxis:ya,marker:{color:color,size:9.5,line:{width:0}},showlegend:false};}
const traces=[
 body([s1RedBody],RED,'x','y'),dots(s1RedBody,RED,'x','y'),dots(s1RedDots,RED,'x','y'),
 body([s1BlueBody].concat(s1BlueGaps),BLUE,'x','y'),dots(s1BlueBody,BLUE,'x','y'),dots(s1BlueDots,BLUE,'x','y'),
 body([s2BlueBody],BLUE,'x2','y2'),dots(s2BlueBody,BLUE,'x2','y2'),dots(s2BlueDots,BLUE,'x2','y2'),
 body([s2RedBody].concat(s2RedGaps,s2RedSpecks.map(speck)),RED,'x2','y2'),dots(s2RedBody,RED,'x2','y2'),dots(s2RedDots,RED,'x2','y2')
];
const W=3293,H=1432,AX='#4a4a4a';
const math='Liberation Serif';
const mL=194,mR=40,mT=50,mB=157,PW=W-mL-mR,PH=H-mT-mB;
function xAxis(dom,rng,maj,txt,min,title,anchor){return{type:'log',domain:dom,range:rng,anchor:anchor,automargin:true,tickmode:'array',tickvals:maj.map(e=>Math.pow(pw,e)),ticktext:txt,ticks:'inside',ticklen:11,tickwidth:2,tickcolor:AX,showline:true,linecolor:AX,linewidth:3,mirror:'allticks',showgrid:false,zeroline:false,tickfont:{family:'Liberation Serif',size:43,color:'#333'},ticklabelstandoff:4,minor:{tickmode:'array',tickvals:min.map(e=>Math.pow(pw,e)),ticks:'inside',ticklen:6,tickwidth:1.5,tickcolor:AX,showgrid:false},title:{text:title,font:{family:math,size:78,color:'#222'},standoff:22}};}
function yAxis(dom,rng,dt,mdt,anchor,title){return{domain:dom,range:rng,anchor:anchor,automargin:true,tick0:0,dtick:dt,ticks:'inside',ticklen:11,tickwidth:2,tickcolor:AX,showline:true,linecolor:AX,linewidth:3,mirror:'allticks',showgrid:false,zeroline:false,tickfont:{family:'DejaVu Sans',size:30,color:'#333'},minor:{tick0:0,dtick:mdt,ticks:'inside',ticklen:6,tickwidth:1.5,tickcolor:AX,showgrid:false},title:title?{text:title,font:{family:math,size:78,color:'#222'},standoff:14}:undefined};}
const layout={width:W,height:H,margin:{l:mL,r:mR,t:mT,b:mB,pad:0},paper_bgcolor:'#fff',plot_bgcolor:'#fff',showlegend:false,
 xaxis:xAxis([0,1483/PW],[3,9],s1MajorExp,s1TickText,s1MinorExp,'<i>D</i><sub><i>en</i></sub> [<i>km</i>]&nbsp;&nbsp;','y'),
 yaxis:yAxis([3/PH,1],[0,70],10,2,'x','<i>V</i><sub><i>en</i></sub> [<i>km/s</i>]&nbsp;&nbsp;&nbsp;'),
 xaxis2:xAxis([(1766-mL)/PW,1],[3.5,8],s2MajorExp,s2TickText,s2MinorExp,'&nbsp;&nbsp;&nbsp;&nbsp;<i>D</i><sub><i>en</i></sub> [<i>km</i>]','y2'),
 yaxis2:yAxis([0,1],[0,25],5,1,'x2',null),
 annotations:[
  {xref:'x domain',yref:'y domain',x:0.025,y:0.872,xanchor:'left',yanchor:'middle',showarrow:false,text:'Strategy 1',font:{family:'Liberation Serif',size:112,color:'#111'}},
  {xref:'x2 domain',yref:'y2 domain',x:0.037,y:0.872,xanchor:'left',yanchor:'middle',showarrow:false,text:'Strategy 2',font:{family:'Liberation Serif',size:112,color:'#111'}}
 ]};
Plotly.newPlot('chart',traces,layout,{displayModeBar:false,staticPlot:true});
</script></body></html>
